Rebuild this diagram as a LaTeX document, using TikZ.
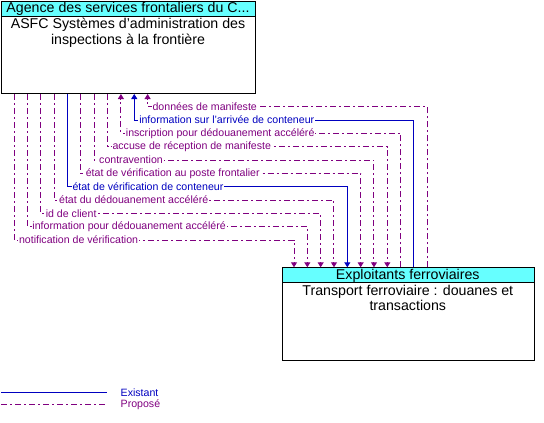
\documentclass[tikz,border=0pt]{standalone}
\usepackage{fontspec}
\setmainfont{Liberation Sans}
\usetikzlibrary{arrows.meta}
\definecolor{exist}{RGB}{0,0,192}
\definecolor{prop}{RGB}{128,0,128}
\definecolor{hdr}{RGB}{102,255,255}
\begin{document}
\begin{tikzpicture}[x=1pt,y=-1pt,
  boxst/.style={draw=black, line width=1pt, inner sep=0pt, anchor=north west},
  hdrst/.style={boxst, fill=hdr},
  bigtext/.style={font=\fontsize{14.2}{16}\selectfont, inner sep=0pt, anchor=base},
  labst/.style={font=\fontsize{10.6}{12}\selectfont, inner sep=0.8pt, fill=white, anchor=west},
  flowexist/.style={draw=exist, line width=1pt},
  flowprop/.style={draw=prop, line width=1pt, dash pattern=on 6pt off 3pt on 2pt off 3pt},
  tipst/.style={-{Triangle[width=6pt,length=5pt]}}]
\useasboundingbox (0,0) rectangle (544,423);
% boxes
\node[boxst, minimum width=254pt, minimum height=92pt] (top) at (1,1) {};
\node[hdrst, minimum width=254pt, minimum height=15pt] (tophdr) at (1,1) {};
\node[bigtext] (toptitle) at (128,12.7) {Agence des services frontaliers du C...};
\node[bigtext] (topbodya) at (128,28.3) {ASFC Systèmes d’administration des};
\node[bigtext] (topbodyb) at (128,44.3) {inspections à la frontière};
\node[boxst, minimum width=252.3pt, minimum height=92.7pt] (bot) at (281.7,267.3) {};
\node[hdrst, minimum width=252.3pt, minimum height=15pt] (bothdr) at (281.7,267.3) {};
\node[bigtext] (bottitle) at (407.8,279) {Exploitants ferroviaires};
\node[bigtext] (botbodya) at (407.8,295) {Transport ferroviaire : douanes et};
\node[bigtext] (botbodyb) at (407.8,310.5) {transactions};
% flows: index / style / colour / label
\foreach \i/\st/\cl/\lab [evaluate=\i as \xa using 146.6-13.35*(\i-1),
                          evaluate=\i as \xb using 145.6-13.33*(\i-1),
                          evaluate=\i as \yy using 106.7+13.33*(\i-1)] in {
  1/flowprop/prop/données de manifeste,
  2/flowexist/exist/information sur l'arrivée de conteneur,
  3/flowprop/prop/inscription pour dédouanement accéléré,
  4/flowprop/prop/accuse de réception de manifeste,
  5/flowprop/prop/contravention,
  6/flowprop/prop/état de vérification au poste frontalier,
  7/flowexist/exist/état de vérification de conteneur,
  8/flowprop/prop/état du dédouanement accéléré,
  9/flowprop/prop/id de client,
  10/flowprop/prop/information pour dédouanement accéléré,
  11/flowprop/prop/notification de vérification}{
  \path ([xshift=\xa pt]top.south west) coordinate (s\i);
  \path ([xshift=\xb pt]bot.north west) coordinate (e\i);
  \coordinate (k\i) at (0,\yy);
  \ifnum\i<4
    \draw[\st, tipst] (e\i) -- (e\i |- k\i) -- (s\i |- k\i) -- (s\i);
  \else
    \draw[\st, tipst] (s\i) -- (s\i |- k\i) -- (e\i |- k\i) -- (e\i);
  \fi
  \node[labst, text=\cl, xshift=4pt] (l\i) at (s\i |- k\i) {\lab};
}
% legend
\coordinate (lgea) at (1,392.3);
\coordinate (lgeb) at (107,392.3);
\coordinate (lgpa) at (1,404.3);
\coordinate (lgpb) at (107,404.3);
\draw[flowexist] (lgea) -- (lgeb);
\draw[flowprop] (lgpa) -- (lgpb);
\node[labst, text=exist, inner sep=0pt, fill=none] (lge) at (120.5,392.3) {Existant};
\node[labst, text=prop, inner sep=0pt, fill=none] (lgp) at (120.5,404.8) {Proposé};
\end{tikzpicture}
\end{document}
